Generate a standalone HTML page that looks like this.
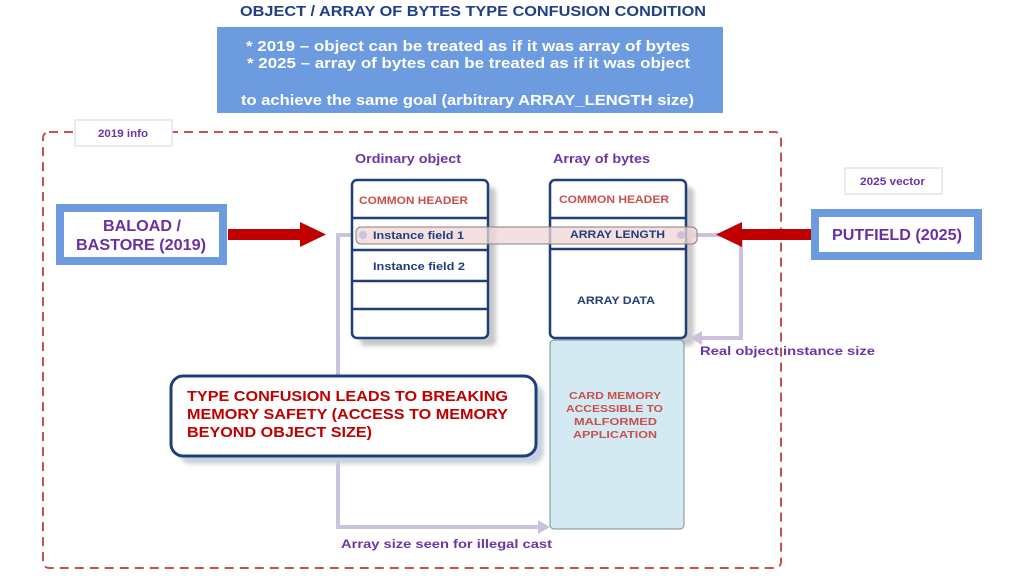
<!DOCTYPE html>
<html><head><meta charset="utf-8">
<style>
html,body{margin:0;padding:0;background:#fff;}
svg{display:block;font-family:"Liberation Sans",Arial,sans-serif;font-weight:bold;}
</style></head>
<body>
<svg width="1024" height="576" viewBox="0 0 1024 576" xmlns="http://www.w3.org/2000/svg">
<defs>
<filter id="sh" x="-10%" y="-10%" width="130%" height="130%"><feGaussianBlur stdDeviation="2"/></filter>
</defs>
<text x="240" y="16" font-size="14.5" fill="#1f3f8a" textLength="466" lengthAdjust="spacingAndGlyphs">OBJECT / ARRAY OF BYTES TYPE CONFUSION CONDITION</text>
<rect x="217" y="27" width="506" height="86" fill="#6d9be0"/>
<g font-size="15" fill="#fff">
<text x="246" y="51" textLength="444" lengthAdjust="spacingAndGlyphs">* 2019 – object can be treated as if it was array of bytes</text>
<text x="247" y="68" textLength="443" lengthAdjust="spacingAndGlyphs">* 2025 – array of bytes can be treated as if it was object</text>
<text x="241" y="105" textLength="453" lengthAdjust="spacingAndGlyphs">to achieve the same goal (arbitrary ARRAY_LENGTH size)</text>
</g>
<rect x="43" y="132" width="738" height="436" rx="6" fill="none" stroke="#c9504c" stroke-width="2" stroke-dasharray="9,6"/>
<rect x="75" y="120" width="97" height="26" fill="#fff" stroke="#dfe6f0" stroke-width="1.5"/>
<text x="98" y="137" font-size="11" fill="#6b35a8" textLength="50" lengthAdjust="spacingAndGlyphs">2019 info</text>
<rect x="845" y="168" width="97" height="26" fill="#fff" stroke="#dfe6f0" stroke-width="1.5"/>
<text x="860" y="185" font-size="11" fill="#6b35a8" textLength="65" lengthAdjust="spacingAndGlyphs">2025 vector</text>
<rect x="60" y="208" width="163" height="53" fill="#fff" stroke="#6d9be0" stroke-width="8"/>
<text x="103" y="231" font-size="16" fill="#6b2fa0" textLength="78" lengthAdjust="spacingAndGlyphs">BALOAD /</text>
<text x="76" y="250" font-size="16" fill="#6b2fa0" textLength="130" lengthAdjust="spacingAndGlyphs">BASTORE (2019)</text>
<rect x="815" y="213" width="163" height="43" fill="#fff" stroke="#6d9be0" stroke-width="8"/>
<text x="832" y="240" font-size="16" fill="#6b2fa0" textLength="130" lengthAdjust="spacingAndGlyphs">PUTFIELD (2025)</text>
<g stroke="#cbc3de" stroke-width="4" fill="none">
<polyline points="363,235 338,235 338,527 540,527"/>
<polyline points="681,235 741,235 741,338 700,338"/>
</g>
<polygon points="550,527 538,520 538,534" fill="#cbc3de"/>
<polygon points="690,338 702,331 702,345" fill="#cbc3de"/>
<rect x="228" y="229" width="74" height="11" fill="#c00000"/>
<polygon points="300,222 326,234.5 300,247" fill="#c00000"/>
<rect x="740" y="229" width="71" height="11" fill="#c00000"/>
<polygon points="742,222 716,234.5 742,247" fill="#c00000"/>
<text x="355" y="163" font-size="12.5" fill="#6b35a8" textLength="106" lengthAdjust="spacingAndGlyphs">Ordinary object</text>
<text x="553" y="163" font-size="12.5" fill="#6b35a8" textLength="97" lengthAdjust="spacingAndGlyphs">Array of bytes</text>
<rect x="360" y="187" width="136" height="159" rx="5" fill="#c8c8c8" filter="url(#sh)"/>
<rect x="558" y="187" width="136" height="159" rx="5" fill="#c8c8c8" filter="url(#sh)"/>
<rect x="352" y="180" width="136" height="158" rx="5" fill="#fff" stroke="#1f3f7a" stroke-width="2.5"/>
<g stroke="#1f3f7a" stroke-width="2.5">
<line x1="352" y1="218" x2="488" y2="218"/><line x1="352" y1="250" x2="488" y2="250"/>
<line x1="352" y1="281" x2="488" y2="281"/><line x1="352" y1="309" x2="488" y2="309"/>
</g>
<text x="359" y="204" font-size="11" fill="#c9504c" textLength="109" lengthAdjust="spacingAndGlyphs">COMMON HEADER</text>
<text x="373" y="270" font-size="11" fill="#1f3f7a" textLength="92" lengthAdjust="spacingAndGlyphs">Instance field 2</text>
<rect x="550" y="180" width="136" height="158" rx="5" fill="#fff" stroke="#1f3f7a" stroke-width="2.5"/>
<g stroke="#1f3f7a" stroke-width="2.5">
<line x1="550" y1="218" x2="686" y2="218"/><line x1="550" y1="249" x2="686" y2="249"/>
</g>
<text x="559" y="203" font-size="11" fill="#c9504c" textLength="110" lengthAdjust="spacingAndGlyphs">COMMON HEADER</text>
<text x="577" y="304" font-size="11" fill="#1f3f7a" textLength="78" lengthAdjust="spacingAndGlyphs">ARRAY DATA</text>
<rect x="356" y="227" width="341" height="17" rx="5" fill="#f0d6d6" fill-opacity="0.75" stroke="#8a7f7f" stroke-width="1"/>
<circle cx="363" cy="235" r="4" fill="#cbc3de"/>
<circle cx="681" cy="235" r="4" fill="#cbc3de"/>
<text x="373" y="239" font-size="11" fill="#1f3f7a" textLength="91" lengthAdjust="spacingAndGlyphs">Instance field 1</text>
<text x="570" y="238" font-size="11" fill="#1f3f7a" textLength="95" lengthAdjust="spacingAndGlyphs">ARRAY LENGTH</text>
<rect x="550" y="340" width="134" height="189" rx="4" fill="#d3eaf2" stroke="#7f8c8c" stroke-width="1"/>
<g font-size="10.5" fill="#c9504c">
<text x="569" y="399" textLength="92" lengthAdjust="spacingAndGlyphs">CARD MEMORY</text>
<text x="566" y="412" textLength="97" lengthAdjust="spacingAndGlyphs">ACCESSIBLE TO</text>
<text x="574" y="425" textLength="83" lengthAdjust="spacingAndGlyphs">MALFORMED</text>
<text x="573" y="438" textLength="84" lengthAdjust="spacingAndGlyphs">APPLICATION</text>
</g>
<text x="700" y="355" font-size="12" fill="#6b35a8" textLength="175" lengthAdjust="spacingAndGlyphs">Real object instance size</text>
<text x="341" y="548" font-size="12" fill="#6b35a8" textLength="211" lengthAdjust="spacingAndGlyphs">Array size seen for illegal cast</text>
<rect x="179" y="384" width="365" height="80" rx="12" fill="#c9d0de" filter="url(#sh)"/>
<rect x="171" y="376" width="365" height="80" rx="12" fill="#fff" stroke="#1f3f7a" stroke-width="3"/>
<g font-size="15" fill="#c00000">
<text x="187" y="401" textLength="321" lengthAdjust="spacingAndGlyphs">TYPE CONFUSION LEADS TO BREAKING</text>
<text x="187" y="419" textLength="321" lengthAdjust="spacingAndGlyphs">MEMORY SAFETY (ACCESS TO MEMORY</text>
<text x="187" y="437" textLength="185" lengthAdjust="spacingAndGlyphs">BEYOND OBJECT SIZE)</text>
</g>
</svg>
</body></html>
